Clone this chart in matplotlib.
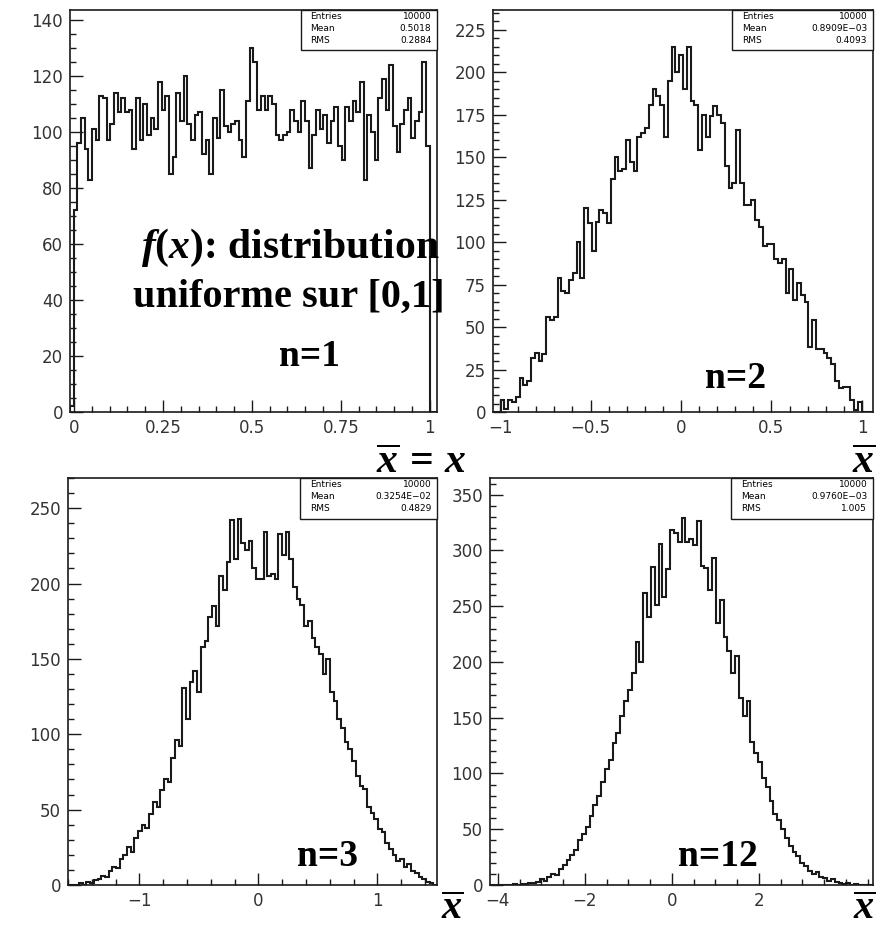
import numpy as np
import matplotlib
matplotlib.use('Agg')
from matplotlib import pyplot as plt
from matplotlib.ticker import MultipleLocator, FixedLocator
from matplotlib.patches import Rectangle

plt.rcParams['font.family'] = ['DejaVu Sans']
plt.rcParams['mathtext.fontset'] = 'custom'
plt.rcParams['mathtext.rm'] = 'Liberation Serif:bold'
plt.rcParams['mathtext.it'] = 'Liberation Serif:bold:italic'
plt.rcParams['mathtext.bf'] = 'Liberation Serif:bold'

# ---- data (100 bins per histogram) ----
n1_range = (-0.011, 1.020)
n1_counts = [2, 72, 96, 105, 94, 83, 101, 97, 113, 112,
             97, 103, 114, 107, 112, 107, 108, 94, 112, 97,
             110, 99, 105, 101, 118, 108, 113, 85, 91, 114,
             104, 120, 103, 97, 106, 107, 92, 97, 85, 105,
             98, 115, 102, 100, 103, 104, 97, 91, 111, 130,
             125, 108, 113, 108, 113, 110, 99, 97, 99, 100,
             108, 104, 100, 111, 104, 87, 99, 108, 101, 106,
             96, 104, 109, 95, 90, 109, 104, 111, 107, 118,
             83, 106, 100, 90, 112, 119, 108, 124, 102, 93,
             103, 108, 112, 98, 104, 107, 125, 95, 0, 0]
n1_stats = ['10000', '0.5018', '0.2884']

n2_range = (-1.039, 1.061)
n2_counts = [0, 0, 7, 2, 7, 6, 9, 20, 16, 18,
             32, 35, 30, 34, 56, 54, 56, 79, 71, 70,
             78, 82, 100, 79, 120, 111, 95, 112, 119, 117,
             111, 137, 150, 142, 143, 160, 147, 142, 162, 164,
             167, 181, 190, 186, 181, 162, 195, 215, 200, 210,
             190, 215, 183, 181, 154, 175, 162, 174, 180, 175,
             170, 145, 132, 135, 166, 135, 122, 122, 125, 113,
             109, 98, 99, 99, 90, 88, 90, 70, 84, 66,
             76, 69, 65, 38, 54, 37, 37, 35, 32, 28,
             18, 14, 15, 15, 7, 1, 6, 0, 0, 0]
n2_stats = ['10000', '0.8909E\u221203', '0.4093']

n3_range = (-1.6, 1.5)
n3_counts = [0, 0, 0, 1, 0, 2, 1, 3, 4, 6,
             5, 9, 12, 11, 17, 20, 25, 22, 31, 36,
             40, 38, 47, 55, 52, 63, 70, 68, 84, 96,
             92, 131, 110, 135, 142, 128, 158, 162, 178, 185,
             172, 205, 196, 214, 242, 216, 243, 227, 222, 228,
             210, 203, 203, 234, 205, 206, 203, 233, 219, 234,
             216, 198, 190, 186, 172, 175, 164, 158, 153, 140,
             150, 128, 122, 110, 104, 95, 90, 82, 72, 66,
             64, 52, 48, 44, 37, 35, 28, 24, 20, 16,
             17, 12, 14, 9, 8, 5, 4, 2, 1, 0]
n3_stats = ['10000', '0.3254E\u221202', '0.4829']

n12_range = (-4.18, 4.62)
n12_counts = [0, 0, 0, 0, 0, 0, 1, 0, 1, 1,
              2, 2, 3, 5, 4, 7, 10, 9, 14, 18,
              22, 27, 31, 40, 46, 52, 62, 72, 80, 92,
              104, 112, 127, 136, 152, 165, 175, 190, 218, 200,
              262, 240, 285, 251, 306, 258, 283, 318, 316, 308,
              329, 308, 310, 305, 326, 286, 284, 265, 293, 235,
              256, 222, 210, 190, 205, 168, 152, 165, 128, 118,
              110, 96, 88, 75, 64, 58, 50, 42, 35, 30,
              26, 20, 17, 13, 10, 12, 7, 6, 4, 5,
              3, 2, 1, 2, 0, 1, 0, 0, 0, 0]
n12_stats = ['10000', '0.9760E\u221203', '1.005']

W, H = 876, 932
fig = plt.figure(figsize=(W / 100, H / 100), dpi=100)


def px_axes(l, t, r, b):
    return fig.add_axes([l / W, 1 - b / H, (r - l) / W, (b - t) / H])


panels = [
    dict(box=(70, 10, 437, 412), rng=n1_range, counts=n1_counts, ymax=143.6,
         xt=[0, 0.25, 0.5, 0.75, 1], xl=['0', '0.25', '0.5', '0.75', '1'],
         xm=0.05, ymaj=20, ymin=5, stats=n1_stats),
    dict(box=(493, 10, 873, 412), rng=n2_range, counts=n2_counts, ymax=236.7,
         xt=[-1, -0.5, 0, 0.5, 1], xl=['\u22121', '\u22120.5', '0', '0.5', '1'],
         xm=0.1, ymaj=25, ymin=5, stats=n2_stats),
    dict(box=(68, 478, 437, 885), rng=n3_range, counts=n3_counts, ymax=270,
         xt=[-1, 0, 1], xl=['\u22121', '0', '1'],
         xm=0.2, ymaj=50, ymin=10, stats=n3_stats),
    dict(box=(490, 478, 873, 885), rng=n12_range, counts=n12_counts, ymax=365,
         xt=[-4, -2, 0, 2], xl=['\u22124', '\u22122', '0', '2'],
         xm=0.5, ymaj=50, ymin=10, stats=n12_stats),
]

for p in panels:
    ax = px_axes(*p['box'])
    lo, hi = p['rng']
    edges = np.linspace(lo, hi, len(p['counts']) + 1)
    ax.stairs(p['counts'], edges, color='#1a1a1a', lw=1.5)
    ax.set_xlim(lo, hi)
    ax.set_ylim(0, p['ymax'])
    ax.xaxis.set_major_locator(FixedLocator(p['xt']))
    ax.set_xticklabels(p['xl'])
    ax.xaxis.set_minor_locator(MultipleLocator(p['xm']))
    ax.yaxis.set_major_locator(MultipleLocator(p['ymaj']))
    ax.yaxis.set_minor_locator(MultipleLocator(p['ymin']))
    ax.tick_params(which='both', direction='in', top=False, right=False,
                   width=1.0, color='#1a1a1a', labelsize=12, labelcolor='#333333')
    ax.tick_params(which='major', length=9, pad=5)
    ax.tick_params(which='minor', length=4.5)
    for s in ax.spines.values():
        s.set_linewidth(1.2)
        s.set_color('#1a1a1a')
    # statistics box
    ax.add_patch(Rectangle((0.63, 0.9), 0.37, 0.1, transform=ax.transAxes,
                           facecolor='white', edgecolor='#1a1a1a', lw=1.0,
                           zorder=3, clip_on=False))
    for k, (name, val) in enumerate(zip(['Entries', 'Mean', 'RMS'], p['stats'])):
        yy = 0.983 - k * 0.029
        ax.text(0.655, yy, name, transform=ax.transAxes, fontsize=6.5,
                va='center', ha='left', zorder=4)
        ax.text(0.985, yy, val, transform=ax.transAxes, fontsize=6.5,
                va='center', ha='right', zorder=4)


def ftext(x, y, s, size, **kw):
    fig.text(x / W, 1 - y / H, s, fontsize=size, family='Liberation Serif',
             weight='bold', ha='center', va='center', **kw)


ftext(290, 248, r'$\mathit{f(x)}$: distribution', 30)
ftext(289, 297, 'uniforme sur [0,1]', 29)
ftext(310, 357, 'n=1', 27)
ftext(736, 378, 'n=2', 27)
ftext(328, 857, 'n=3', 27)
ftext(718, 857, 'n=12', 27)
ftext(421, 463, r'$\overline{x}\,=\,x$', 30)
ftext(864, 463, r'$\overline{x}$', 30)
ftext(452, 910, r'$\overline{x}$', 29)
ftext(864, 910, r'$\overline{x}$', 29)

fig.savefig('out.png', dpi=100)
